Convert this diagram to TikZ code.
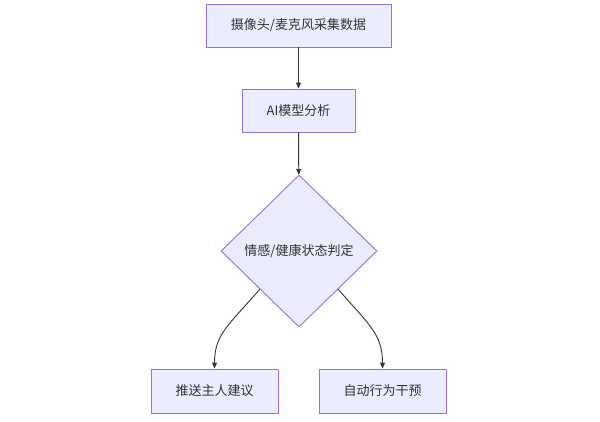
\documentclass[tikz,border=0pt]{standalone}
\usepackage{fontspec}
\setmainfont{Noto Sans CJK SC}
\usetikzlibrary{shapes.geometric,arrows.meta}
\definecolor{boxfill}{HTML}{ECECFF}
\definecolor{boxline}{HTML}{9370DB}
\definecolor{linec}{HTML}{333333}
\begin{document}
\begin{tikzpicture}[x=1pt,y=-1pt,
  proc/.style={draw=boxline,fill=boxfill,line width=0.9pt,inner sep=0pt,font=\fontsize{13}{15}\selectfont,text=linec},
  dec/.style={diamond,draw=boxline,fill=boxfill,line width=0.9pt,inner sep=0pt,aspect=1,font=\fontsize{13}{15}\selectfont,text=linec},
  conn/.style={draw=linec,line width=0.9pt,-{Triangle[length=6pt,width=5pt]}}]
\useasboundingbox[fill=white] (0,0) rectangle (600,422);
\node[proc,minimum width=185,minimum height=43] (a) at (298.5,25.5) {摄像头/麦克风采集数据};
\node[proc,minimum width=113,minimum height=43] (b) at (298.5,110.5) {AI模型分析};
\node[dec,minimum width=156,minimum height=152] (c) at (299,251) {情感/健康状态判定};
\node[proc,minimum width=127,minimum height=44] (d) at (214.5,391) {推送主人建议};
\node[proc,minimum width=127,minimum height=44] (e) at (382.5,391) {自动行为干预};
\draw[conn] (a) -- (b);
\draw[conn] (b) -- (c);
\draw[conn] (c.south west) .. controls +(-30,35) and +(0,-35) .. (d.north);
\draw[conn] (c.south east) .. controls +(30,35) and +(0,-35) .. (e.north);
\end{tikzpicture}
\end{document}
